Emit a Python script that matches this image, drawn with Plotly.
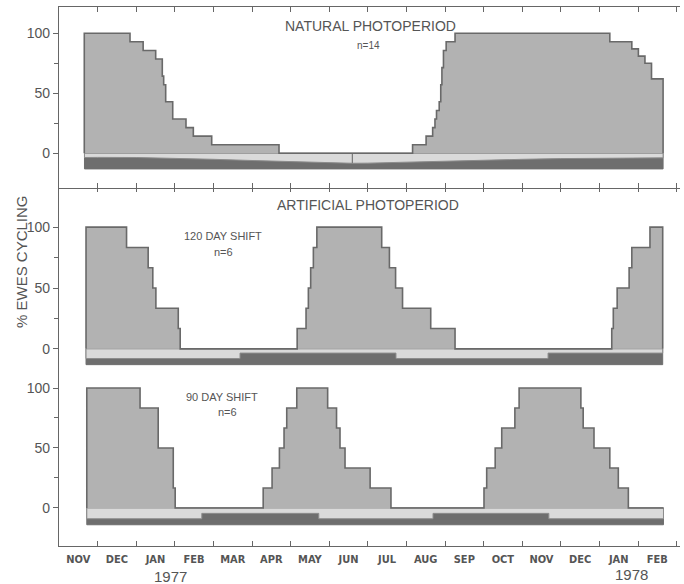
import plotly.graph_objects as go

# ---------------- data ----------------
MONTHS = ["NOV", "DEC", "JAN", "FEB", "MAR", "APR", "MAY", "JUN",
          "JUL", "AUG", "SEP", "OCT", "NOV", "DEC", "JAN", "FEB"]
MONTH_CENTERS = [i + 0.5 for i in range(16)]
MONTH_BOUNDS = list(range(1, 17))
YEAR_LABELS = ["1977", "1978"]

# Natural photoperiod, n=14 (x in months from 1 Nov 1976; value applies from edge i to edge i+1)
nat_edges = [0.655, 1.84, 2.18, 2.505, 2.676, 2.712, 2.764, 2.946, 3.29, 3.48, 3.956, 5.70,
             9.16, 9.51, 9.68, 9.74, 9.78, 9.85, 9.89, 9.92, 9.96, 10.03, 10.26,
             14.27, 14.84, 15.01, 15.18, 15.35, 15.65]
nat_vals = [100, 92.9, 85.7, 78.6, 64.3, 57.1, 42.9, 28.6, 21.4, 14.3, 7.1, 0,
            7.1, 14.3, 21.4, 28.6, 35.7, 42.9, 57.1, 71.4, 85.7, 92.9, 100,
            93, 87, 81, 75, 62]

# 120 day shift, n=6
s120_edges = [0.70, 1.75, 2.31, 2.43, 2.51, 3.09, 3.14,
              6.17, 6.40, 6.46, 6.52, 6.59, 6.68,
              8.36, 8.56, 8.72, 8.90, 9.63, 10.26,
              14.32, 14.36, 14.46, 14.77, 14.84, 15.31, 15.64]
s120_vals = [100, 83.3, 66.7, 50, 33.3, 16.7, 0,
             16.7, 33.3, 50, 66.7, 83.3, 100,
             83.3, 66.7, 50, 33.3, 16.7, 0,
             16.7, 33.3, 50, 66.7, 83.3, 100]

# 90 day shift, n=6
s90_edges = [0.72, 2.10, 2.57, 2.96, 3.01,
             5.29, 5.52, 5.71, 5.83, 5.90, 6.16,
             6.96, 7.19, 7.28, 7.41, 8.06, 8.60,
             11.01, 11.08, 11.30, 11.47, 11.81, 11.92,
             13.52, 13.58, 13.86, 14.27, 14.49, 14.75, 15.66]
s90_vals = [100, 83.3, 50, 16.7, 0,
            16.7, 33.3, 50, 66.7, 83.3, 100,
            83.3, 66.7, 50, 33.3, 16.7, 0,
            16.7, 33.3, 50, 66.7, 83.3, 100,
            83.3, 66.7, 50, 33.3, 16.7, 0]

# Photoperiod strips (light = day length band)
nat_pp_x = [0.66, 1, 2, 3, 4, 5, 6, 7, 7.6, 8, 9, 10, 11, 12, 13, 14, 15, 15.65]
nat_pp_b = [-3.5, -3.4, -3.5, -4.2, -5.0, -6.0, -7.0, -7.9, -8.3, -8.2, -7.6, -6.8,
            -5.9, -5.0, -4.4, -4.0, -3.8, -3.8]
nat_pp_bottom = -13
nat_solstice = 7.6

s120_pp_x = [0.70, 4.69, 8.73, 12.67, 15.64]
s120_pp_b = [-8, -3.5, -8, -3.5]
s120_pp_bottom = -13

s90_pp_x = [0.72, 3.70, 6.73, 9.69, 12.69, 15.66]
s90_pp_b = [-9, -4.5, -9, -4.5, -9]
s90_pp_bottom = -14

# ---------------- style ----------------
FILL = "rgb(178,178,178)"
OUT = "rgb(105,105,105)"
LIGHT = "rgb(218,218,218)"
DARK = "rgb(110,110,110)"
TXT = "#555555"
AX = "#666666"

W, H = 684, 584
ML, MR, MT, MB = 59, 4, 7, 38
PW, PH = W - ML - MR, H - MT - MB


def px(xp, yp):
    return (xp - ML) / PW, (H - MB - yp) / PH


fig = go.Figure()


def add_dark(xs, bottom, xa, ya):
    x0, x1 = xs[0], xs[-1]
    fig.add_trace(go.Scatter(x=[x0, x1, x1, x0, x0], y=[0, 0, bottom, bottom, 0],
                             mode="lines", fill="toself", fillcolor=DARK,
                             line=dict(color=DARK, width=1), xaxis=xa, yaxis=ya,
                             hoverinfo="skip"))


def add_light(px_, py_, xa, ya):
    fig.add_trace(go.Scatter(x=px_, y=py_, mode="lines", fill="toself", fillcolor=LIGHT,
                             line=dict(color="rgb(140,140,140)", width=1), xaxis=xa, yaxis=ya,
                             hoverinfo="skip"))


def add_strip_step(xs, bs, bottom, xa, ya):
    add_dark(xs, bottom, xa, ya)
    x0, x1 = xs[0], xs[-1]
    px_, py_ = [x0, x1], [0, 0]
    for i in reversed(range(len(bs))):
        px_ += [xs[i + 1], xs[i]]
        py_ += [bs[i], bs[i]]
    px_.append(x0)
    py_.append(0)
    add_light(px_, py_, xa, ya)


def add_strip_smooth(xs, bs, bottom, xa, ya):
    add_dark(xs, bottom, xa, ya)
    x0, x1 = xs[0], xs[-1]
    px_ = [x0, x1] + list(reversed(xs)) + [x0]
    py_ = [0, 0] + list(reversed(bs)) + [0]
    add_light(px_, py_, xa, ya)


def add_hist(edges, vals, xa, ya):
    x = [edges[0]] + list(edges) + [edges[-1]]
    y = [0] + list(vals) + [vals[-1], 0]
    fig.add_trace(go.Scatter(x=x, y=y, mode="lines", fill="tozeroy", fillcolor=FILL,
                             line=dict(color=OUT, width=1.6, shape="hv"),
                             xaxis=xa, yaxis=ya, hoverinfo="skip"))


# top panel
add_strip_smooth(nat_pp_x, nat_pp_b, nat_pp_bottom, "x2", "y")
sol_b = nat_pp_b[nat_pp_x.index(nat_solstice)]
fig.add_trace(go.Scatter(x=[nat_solstice, nat_solstice], y=[0, sol_b], mode="lines",
                         line=dict(color="rgb(120,120,120)", width=1.2),
                         xaxis="x2", yaxis="y", hoverinfo="skip"))
add_hist(nat_edges, nat_vals, "x2", "y")

# middle panel
add_strip_step(s120_pp_x, s120_pp_b, s120_pp_bottom, "x3", "y2")
add_hist(s120_edges, s120_vals, "x3", "y2")

# bottom panel
add_strip_step(s90_pp_x, s90_pp_b, s90_pp_bottom, "x", "y3")
add_hist(s90_edges, s90_vals, "x", "y3")

XR = [0, PW / 38.6]
SEP = (H - MB - 188) / PH

yfont = dict(family="Liberation Sans", size=14, color=TXT)
ycommon = dict(showline=True, linecolor=AX, linewidth=1.2, ticks="outside", ticklen=5,
               tickcolor=AX, tickmode="array", tickvals=[0, 50, 100], tickfont=yfont,
               showgrid=False, zeroline=False,
               minor=dict(tickmode="array", tickvals=[25, 75], ticks="outside", ticklen=4,
                          tickcolor=AX, showgrid=False))

fig.update_layout(
    width=W, height=H,
    margin=dict(l=ML, r=MR, t=MT, b=MB),
    paper_bgcolor="white", plot_bgcolor="white",
    showlegend=False,
    xaxis=dict(domain=[0, 1], range=XR, anchor="y3", showline=True, linecolor=AX,
               linewidth=1.2, tickmode="array", tickvals=MONTH_CENTERS, ticktext=MONTHS,
               ticks="", ticklabelstandoff=3,
               tickfont=dict(family="DejaVu Sans Condensed, Liberation Sans", size=11,
                             color=TXT, weight="bold"),
               showgrid=False, zeroline=False,
               minor=dict(tickmode="array", tickvals=MONTH_BOUNDS, ticks="inside", ticklen=5,
                          tickcolor=AX, showgrid=False)),
    xaxis2=dict(matches="x", anchor="y", side="top", showline=True, mirror="ticks",
                linecolor=AX, linewidth=1.2, tickmode="array", tickvals=MONTH_BOUNDS,
                ticks="inside", ticklen=5, tickcolor=AX, showticklabels=False,
                showgrid=False, zeroline=False),
    xaxis3=dict(matches="x", anchor="y2", side="top", showline=False,
                tickmode="array", tickvals=MONTH_BOUNDS, ticks="inside", ticklen=4,
                tickcolor=AX, showticklabels=False, showgrid=False, zeroline=False),
    yaxis=dict(domain=[SEP, 1], range=[-28.9, 121.9], anchor="x2", **ycommon),
    yaxis2=dict(domain=[(H - MB - 370) / PH, SEP], range=[-17.4, 132.2], anchor="x3", **ycommon),
    yaxis3=dict(domain=[0, (H - MB - 370) / PH], range=[-31.7, 115], anchor="x", **ycommon),
)

anns = [
    ("NATURAL PHOTOPERIOD", 370, 26, 14, 0),
    ("n=14", 368, 45, 10, 0),
    ("ARTIFICIAL PHOTOPERIOD", 368, 205, 14, 0),
    ("120 DAY SHIFT", 223, 236, 11, 0),
    ("n=6", 223, 252, 11, 0),
    ("90 DAY SHIFT", 222, 397, 11, 0),
    ("n=6", 227, 412, 11, 0),
    (YEAR_LABELS[0], 170, 576, 15, 0),
    (YEAR_LABELS[1], 631, 574, 15, 0),
    ("% EWES CYCLING", 21, 262, 15, -90),
]
for text, xp, yp, size, ang in anns:
    ax_, ay_ = px(xp, yp)
    fig.add_annotation(text=text, x=ax_, y=ay_, xref="paper", yref="paper",
                       showarrow=False, textangle=ang, xanchor="center", yanchor="middle",
                       font=dict(family="Liberation Sans", size=size, color=TXT))

fig.write_html("out.html")
